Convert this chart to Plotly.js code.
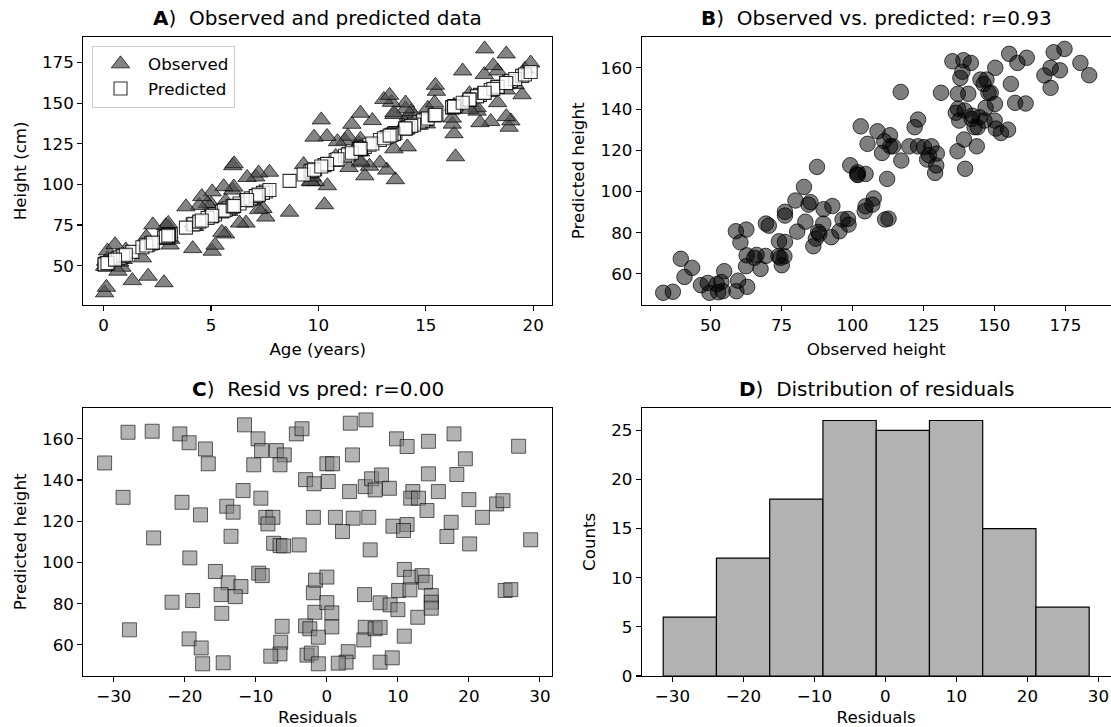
<!DOCTYPE html>
<html><head><meta charset="utf-8">
<script src="https://cdn.plot.ly/plotly-3.0.1.min.js"></script>
<style>html,body{margin:0;padding:0;background:#fff}#chart{width:1111px;height:727px}</style>
</head><body><div id="chart"></div>
<script>
// Residuals and predicted heights (one entry per child)
const residuals = [
-28.0,-24.6,-31.3,-28.7,-24.4,-27.8,
-20.7,-19.4,-17.1,-16.7,-20.4,-17.8,-19.3,-21.8,-18.9,-19.4,-17.7,-17.5,
-11.6,-9.7,-9.2,-10.3,-14.1,-11.8,-13.2,-9.3,-13.5,-15.7,-9.6,-9.1,-13.9,-12.1,-14.9,-12.9,-14.8,-14.6,
-7.1,-6.0,-6.6,-4.3,-3.5,-3.0,-1.8,-8.6,-7.6,-8.3,-1.9,-7.5,-6.6,-6.1,-3.9,-6.3,-6.5,-6.6,-7.9,-3.0,-1.9,-1.6,-1.7,-2.4,-2.8,-2.2,
3.3,5.5,3.6,0.0,0.8,0.2,5.4,3.2,1.2,3.7,5.9,2.2,6.1,0.0,5.3,0.0,0.7,0.7,-1.2,5.4,5.2,3.0,2.7,1.6,-1.2,
9.8,11.3,6.3,7.7,6.8,8.8,12.1,11.8,12.9,9.3,11.3,10.8,10.9,11.8,13.4,10.1,11.7,7.5,8.9,10.0,12.8,6.8,7.5,10.9,7.5,9.2,
14.3,17.9,19.5,14.3,18.3,15.7,14.1,20.0,17.5,16.9,20.1,13.9,14.7,14.7,14.7,
27.0,23.9,24.8,21.9,28.7,25.1,25.9
];
const predicted = [
163.2,163.7,148.3,131.6,111.9,67.3,
162.4,158.1,155.1,147.9,129.2,123.1,102.2,80.7,81.5,62.9,58.5,50.8,
166.8,160.0,154.3,147.4,127.3,134.9,124.4,131.2,112.7,95.6,94.8,93.6,90.1,88.3,84.4,83.4,75.3,51.3,
154.3,152.2,147.4,162.4,164.9,140.2,138.2,121.9,121.9,118.7,121.9,109.3,108.2,108.0,108.5,69.0,61.3,55.6,54.5,69.2,85.3,91.4,75.8,67.8,55.0,56.0,
167.6,169.2,152.2,147.9,147.9,139.3,136.8,134.4,121.9,121.5,121.9,115.0,106.1,92.9,84.4,80.5,75.5,68.7,63.7,68.5,62.4,56.7,51.6,51.1,50.8,
160.0,156.3,140.6,142.5,135.2,136.0,134.4,131.2,131.2,117.6,118.4,115.5,96.6,92.8,93.6,86.4,86.7,80.4,79.4,77.1,73.4,67.8,68.5,64.2,51.6,53.7,
158.8,162.4,150.3,143.0,142.7,134.4,125.2,130.5,119.5,112.6,109.0,90.4,83.9,80.7,77.8,
156.4,128.4,130.0,121.9,111.0,86.4,86.8
];
// Fitted line (height at age 0, cm per year)
const fitIntercept = 50.5;
const fitSlope = 5.97;
// Histogram of residuals (panel D)
const binEdges = [-31.3, -23.8, -16.3, -8.8, -1.3, 6.2, 13.7, 21.2, 28.7];
const binCounts = [6, 12, 18, 26, 25, 26, 15, 7];
const panelLetters = ['A', 'B', 'C', 'D'];
const panelTitles = ['Observed and predicted data', 'Observed vs. predicted: r=0.93', 'Resid vs pred: r=0.00', 'Distribution of residuals'];

// model relations
const age = predicted.map(p => (p - fitIntercept) / fitSlope);
const observed = predicted.map((p, i) => p + residuals[i]);
const binCenters = binCounts.map((c, i) => (binEdges[i] + binEdges[i + 1]) / 2);
const binWidths = binCounts.map((c, i) => binEdges[i + 1] - binEdges[i]);

function pad5(arr) {
  const lo = Math.min(...arr), hi = Math.max(...arr), m = 0.05 * (hi - lo);
  return [lo - m, hi + m];
}

const FONT = 'DejaVu Sans, Verdana, sans-serif';
const FS = 16.7;
const W = 1111, H = 727;
const col1 = [83.3 / W, 552 / W];
const col2 = [641.9 / W, 1110.5 / W];
const row1 = [1 - 305 / H, 1 - 36.7 / H];
const row2 = [1 - 676 / H, 1 - 407.7 / H];

function ax(domain, anchor, range, dtick, title, standoff) {
  return {
    domain: domain, anchor: anchor, range: range, tickmode: 'linear', tick0: 0, dtick: dtick,
    showline: true, mirror: true, linecolor: '#000', linewidth: 1.1,
    ticks: 'outside', ticklen: 5, tickwidth: 1.1, tickcolor: '#000',
    showgrid: false, zeroline: false, automargin: false, fixedrange: true,
    tickfont: {family: FONT, size: FS, color: '#000'},
    title: {text: title, font: {family: FONT, size: FS, color: '#000'}, standoff: standoff}
  };
}

const traces = [
  {x: age, y: observed, xaxis: 'x', yaxis: 'y', type: 'scatter', mode: 'markers', name: 'Observed',
   marker: {symbol: 'triangle-up', size: 16, color: 'rgba(80,80,80,0.7)', line: {color: 'rgba(0,0,0,0.7)', width: 1}}},
  {x: age, y: predicted, xaxis: 'x', yaxis: 'y', type: 'scatter', mode: 'markers', name: 'Predicted',
   marker: {symbol: 'square', size: 13, color: 'rgba(255,255,255,0.8)', line: {color: 'rgba(0,0,0,0.8)', width: 1.1}}},
  {x: observed, y: predicted, xaxis: 'x2', yaxis: 'y2', type: 'scatter', mode: 'markers', showlegend: false,
   marker: {symbol: 'circle', size: 15.5, color: 'rgba(0,0,0,0.5)', line: {color: 'rgba(0,0,0,0.7)', width: 1}}},
  {x: residuals, y: predicted, xaxis: 'x3', yaxis: 'y3', type: 'scatter', mode: 'markers', showlegend: false,
   marker: {symbol: 'square', size: 14, color: 'rgba(128,128,128,0.6)', line: {color: 'rgba(0,0,0,0.6)', width: 1}}},
  {x: binCenters, y: binCounts, width: binWidths, xaxis: 'x4', yaxis: 'y4', type: 'bar', showlegend: false,
   marker: {color: 'rgb(178,178,178)', line: {color: '#000', width: 1.2}}}
];

const titleAnn = panelLetters.map((L, i) => {
  const cx = i % 2 === 0 ? col1 : col2;
  const ry = i < 2 ? row1 : row2;
  return {
    text: '<b>' + L + '</b>)\u00a0\u00a0' + panelTitles[i],
    xref: 'paper', yref: 'paper', x: (cx[0] + cx[1]) / 2, y: ry[1],
    xanchor: 'center', yanchor: 'bottom', yshift: 5, showarrow: false,
    font: {family: FONT, size: 20, color: '#000'}
  };
});

const layout = {
  width: W, height: H, margin: {l: 0, r: 0, t: 0, b: 0},
  paper_bgcolor: '#fff', plot_bgcolor: '#fff',
  font: {family: FONT, size: FS, color: '#000'},
  showlegend: true,
  legend: {x: 92 / W, y: 1 - 45.5 / H, xanchor: 'left', yanchor: 'top', xref: 'paper', yref: 'paper',
           bgcolor: 'rgba(255,255,255,0.8)', bordercolor: '#cccccc', borderwidth: 1,
           font: {family: FONT, size: FS, color: '#000'}, itemwidth: 45, tracegroupgap: 0},
  xaxis: ax(col1, 'y', pad5(age), 5, 'Age (years)', 9),
  yaxis: ax(row1, 'x', pad5(observed.concat(predicted)), 25, 'Height (cm)', 11),
  xaxis2: ax(col2, 'y2', pad5(observed), 25, 'Observed height', 9),
  yaxis2: ax(row1, 'x2', pad5(predicted), 20, 'Predicted height', 11),
  xaxis3: ax(col1, 'y3', pad5(residuals), 10, 'Residuals', 8),
  yaxis3: ax(row2, 'x3', pad5(predicted), 20, 'Predicted height', 11),
  xaxis4: ax(col2, 'y4', pad5([binEdges[0], binEdges[binEdges.length - 1]]), 10, 'Residuals', 8),
  yaxis4: ax(row2, 'x4', [0, Math.max(...binCounts) * 1.05], 5, 'Counts', 11),
  bargap: 0,
  annotations: titleAnn
};

Plotly.newPlot('chart', traces, layout, {staticPlot: true, displayModeBar: false});
</script>
</body></html>
